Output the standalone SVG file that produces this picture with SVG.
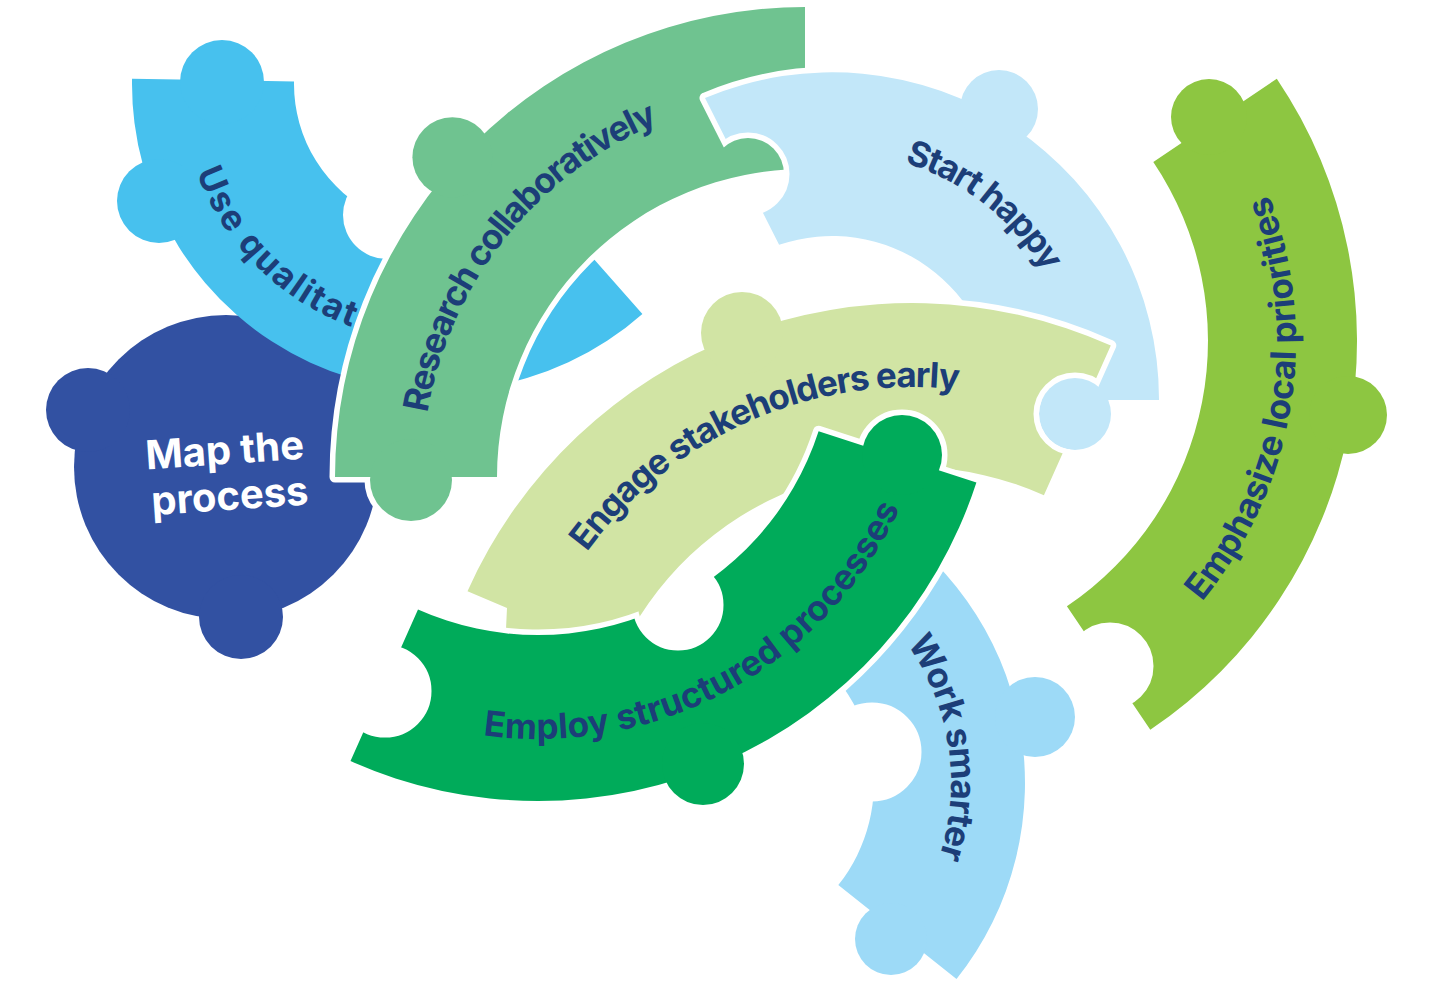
<svg xmlns="http://www.w3.org/2000/svg" xmlns:xlink="http://www.w3.org/1999/xlink" width="1433" height="997" viewBox="0 0 1433 997">
<style>
.ol{fill:#fff;stroke:#fff;stroke-width:11;stroke-linejoin:round}
.lbl{font-family:Inter,"Liberation Sans",sans-serif;font-weight:700;font-size:35px;fill:#1C3E78}
.map{font-family:Inter,"Liberation Sans",sans-serif;font-weight:700;font-size:40px;fill:#fff;text-anchor:middle}
.nb{fill:#000;stroke:#000;stroke-width:11}
</style>
<defs>
  <!-- shapes -->
  <g id="s-use">
    <path d="M642.4,313.9 A307,307 0 0 1 132.05,78.64 L294.02,81.47 A145,145 0 0 0 535.1,192.6 Z"/>
    <circle cx="222" cy="82" r="42"/>
    <circle cx="159" cy="201" r="42"/>
  </g>
  <g id="s-research">
    <path d="M335,477 A470,470 0 0 1 805,7 L805,169 A308,308 0 0 0 497,477 Z"/>
    <circle cx="452.4" cy="157.3" r="40"/>
    <circle cx="411" cy="480" r="41"/>
  </g>
  <g id="s-start">
    <path d="M705,98 A327,327 0 0 1 1159,400 L996,400 A164,164 0 0 0 779.1,244.8 Z"/>
    <circle cx="999" cy="109" r="39"/>
    <circle cx="1075" cy="414" r="36"/>
  </g>
  <g id="s-engage">
    <path d="M467.5,591.2 A487,487 0 0 1 1110.8,345.5 L1043.9,495.2 A323,323 0 0 0 617.2,658.1 L505,650 L507,608 Z"/>
    <circle cx="742" cy="333" r="41"/>
  </g>
  <g id="s-employ">
    <path d="M976.4,482.5 A461,461 0 0 1 350.5,761.1 L418,609.5 A295,295 0 0 0 818.6,431.2 Z"/>
    <circle cx="902" cy="455" r="40"/>
    <circle cx="703" cy="764" r="41"/>
  </g>
  <g id="s-work">
    <path d="M867.5,510.2 A315,315 0 0 1 956.5,979.1 L838.3,885.1 A164,164 0 0 0 792,641 Z"/>
    <circle cx="1035" cy="717" r="40"/>
    <circle cx="891" cy="939" r="36"/>
  </g>
  <g id="s-emph">
    <path d="M1276.8,78.7 A469,469 0 0 1 1150.3,729.8 L1066.9,606.3 A320,320 0 0 0 1153.3,162.1 Z"/>
    <circle cx="1209" cy="117" r="38"/>
    <circle cx="1348" cy="415" r="39"/>
  </g>

  <!-- notch masks -->
  <mask id="m-use" maskUnits="userSpaceOnUse" x="0" y="0" width="1433" height="997">
    <rect width="1433" height="997" fill="#fff"/>
    <circle cx="387" cy="215" r="44" fill="#000"/>
  </mask>
  <mask id="m-start-ol" maskUnits="userSpaceOnUse" x="0" y="0" width="1433" height="997">
    <rect width="1433" height="997" fill="#fff"/>
    <circle cx="748" cy="174" r="36" fill="#000"/>
  </mask>
  <mask id="m-start-bd" maskUnits="userSpaceOnUse" x="0" y="0" width="1433" height="997">
    <rect width="1433" height="997" fill="#fff"/>
    <circle class="nb" cx="748" cy="174" r="36"/>
  </mask>
  <mask id="m-engage-ol" maskUnits="userSpaceOnUse" x="0" y="0" width="1433" height="997">
    <rect width="1433" height="997" fill="#fff"/>
    <circle cx="1075" cy="414" r="36" fill="#000"/>
  </mask>
  <mask id="m-engage-bd" maskUnits="userSpaceOnUse" x="0" y="0" width="1433" height="997">
    <rect width="1433" height="997" fill="#fff"/>
    <circle class="nb" cx="1075" cy="414" r="36"/>
  </mask>
  <mask id="m-employ-ol" maskUnits="userSpaceOnUse" x="0" y="0" width="1433" height="997">
    <rect width="1433" height="997" fill="#fff"/>
    <circle cx="385" cy="691" r="41" fill="#000"/>
    <circle cx="678" cy="605" r="40" fill="#000"/>
  </mask>
  <mask id="m-employ-bd" maskUnits="userSpaceOnUse" x="0" y="0" width="1433" height="997">
    <rect width="1433" height="997" fill="#fff"/>
    <circle class="nb" cx="385" cy="691" r="41"/>
    <circle class="nb" cx="678" cy="605" r="40"/>
  </mask>
  <mask id="m-work-ol" maskUnits="userSpaceOnUse" x="0" y="0" width="1433" height="997">
    <rect width="1433" height="997" fill="#fff"/>
    <circle cx="872" cy="752" r="44" fill="#000"/>
  </mask>
  <mask id="m-work-bd" maskUnits="userSpaceOnUse" x="0" y="0" width="1433" height="997">
    <rect width="1433" height="997" fill="#fff"/>
    <circle class="nb" cx="872" cy="752" r="44"/>
  </mask>
  <mask id="m-emph-ol" maskUnits="userSpaceOnUse" x="0" y="0" width="1433" height="997">
    <rect width="1433" height="997" fill="#fff"/>
    <circle cx="1110" cy="666" r="38" fill="#000"/>
  </mask>
  <mask id="m-emph-bd" maskUnits="userSpaceOnUse" x="0" y="0" width="1433" height="997">
    <rect width="1433" height="997" fill="#fff"/>
    <circle class="nb" cx="1110" cy="666" r="38"/>
  </mask>

  <!-- text paths -->
  <path id="tp-use" d="M196.6,172.2 A258,258 0 0 0 359.3,329.4"/>
  <path id="tp-research" d="M427.4,413.1 A383,383 0 0 1 658.4,123.1"/>
  <path id="tp-start" d="M904.5,162.8 A248,248 0 0 1 1044.6,272.3"/>
  <path id="tp-engage" d="M586.8,552 A403,403 0 0 1 958.3,389.7"/>
  <path id="tp-employ" d="M483.2,735.2 A399,399 0 0 0 899.6,508.6"/>
  <path id="tp-work" d="M906.7,643.7 A241,241 0 0 1 939.3,857.1"/>
  <path id="tp-emph" d="M1201.9,601.6 A408,408 0 0 0 1268.9,194.8"/>
</defs>

<rect width="1433" height="997" fill="#fff"/>

<g id="node-map">
  <circle cx="226" cy="467" r="152" fill="#3251A2"/>
  <circle cx="88" cy="410" r="42" fill="#3251A2"/>
  <circle cx="241" cy="617" r="42" fill="#3251A2"/>
  <text class="map" transform="rotate(-4 227 485)"><tspan x="227" y="464">Map the</tspan><tspan x="229" y="510">process</tspan></text>
</g>

<g id="node-use">
  <use href="#s-use" fill="#47C1EE" mask="url(#m-use)"/>
  <text class="lbl"><textPath href="#tp-use" textLength="226" lengthAdjust="spacing">Use qualitat</textPath></text>
</g>

<g id="node-research">
  <use href="#s-research" class="ol"/>
  <use href="#s-research" fill="#6FC390"/>
  <text class="lbl"><textPath href="#tp-research" textLength="387" lengthAdjust="spacing">Research collaboratively</textPath></text>
</g>

<g id="node-start">
  <use href="#s-start" class="ol" mask="url(#m-start-ol)"/>
  <use href="#s-start" fill="#C2E7F9" mask="url(#m-start-bd)"/>
  <text class="lbl"><textPath href="#tp-start" textLength="182" lengthAdjust="spacing">Start happy</textPath></text>
</g>

<g id="node-engage">
  <use href="#s-engage" class="ol" mask="url(#m-engage-ol)"/>
  <use href="#s-engage" fill="#D1E4A4" mask="url(#m-engage-bd)"/>
  <text class="lbl"><textPath href="#tp-engage" textLength="425" lengthAdjust="spacing">Engage stakeholders early</textPath></text>
</g>

<g id="node-work">
  <use href="#s-work" class="ol" mask="url(#m-work-ol)"/>
  <use href="#s-work" fill="#9DDAF7" mask="url(#m-work-bd)"/>
  <text class="lbl"><textPath href="#tp-work" textLength="224" lengthAdjust="spacing">Work smarter</textPath></text>
</g>

<g id="node-employ">
  <use href="#s-employ" class="ol" mask="url(#m-employ-ol)"/>
  <use href="#s-employ" fill="#00AB5A" mask="url(#m-employ-bd)"/>
  <text class="lbl"><textPath href="#tp-employ" textLength="508" lengthAdjust="spacing">Employ structured processes</textPath></text>
</g>

<g id="node-emph">
  <use href="#s-emph" class="ol" mask="url(#m-emph-ol)"/>
  <use href="#s-emph" fill="#8DC641" mask="url(#m-emph-bd)"/>
  <text class="lbl"><textPath href="#tp-emph" textLength="432" lengthAdjust="spacing">Emphasize local priorities</textPath></text>
</g>

<g id="connectors"></g>
</svg>
